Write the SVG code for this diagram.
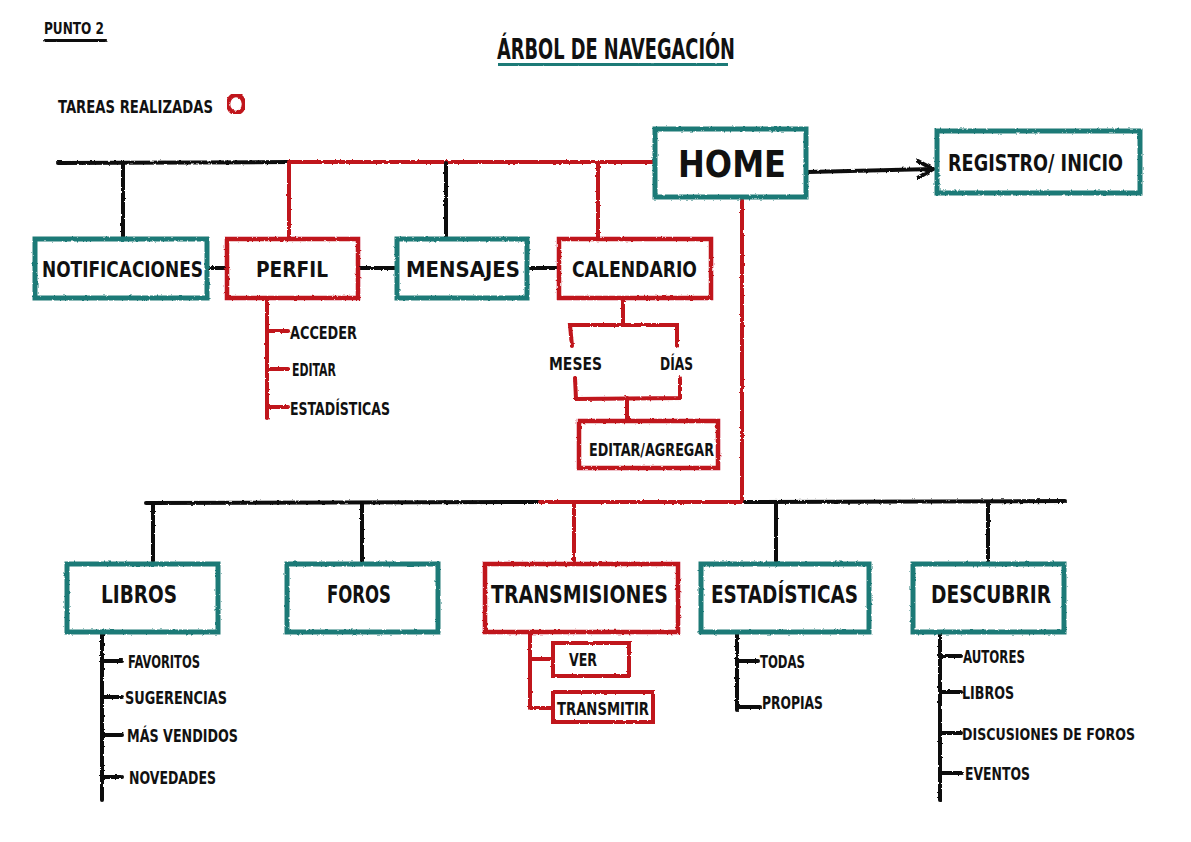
<svg xmlns="http://www.w3.org/2000/svg" width="1191" height="842" viewBox="0 0 1191 842">
<defs>
<filter id="rough" x="-5%" y="-5%" width="110%" height="110%">
<feTurbulence type="fractalNoise" baseFrequency="0.35" numOctaves="2" seed="3" result="n"/>
<feDisplacementMap in="SourceGraphic" in2="n" scale="2.5" xChannelSelector="R" yChannelSelector="G"/>
</filter>
<marker id="arrow" viewBox="0 0 12 12" refX="10" refY="6" markerWidth="5" markerHeight="5" orient="auto" markerUnits="strokeWidth">
<path d="M1,1 L10,6 L1,11" fill="none" stroke="#111" stroke-width="2.5" stroke-linecap="round" stroke-linejoin="round"/>
</marker>
</defs>
<style>
text{font-family:"DejaVu Sans Condensed","DejaVu Sans","Liberation Sans",sans-serif;font-weight:bold;fill:#111;}
.lbl1{font-size:22px;}
.lbl{font-size:24px;}
.sub{font-size:18px;}
.teal{fill:#fff;stroke:#1f7a77;stroke-width:5;}
.red{fill:#fff;stroke:#c0141b;stroke-width:4.5;}
.redS{fill:#fff;stroke:#c0141b;stroke-width:4;}
.k{stroke:#111;stroke-width:4;fill:none;stroke-linecap:round;}
.r{stroke:#c0141b;stroke-width:4;fill:none;stroke-linecap:round;}
.rk{filter:url(#rough);}
</style>
<rect width="1191" height="842" fill="#fff"/>

<g id="header">
<text x="44" y="34" font-size="16" textLength="60" lengthAdjust="spacingAndGlyphs">PUNTO 2</text>
<line x1="45" y1="41" x2="105" y2="40" class="k rk" stroke-width="3.5"/>
<text x="497" y="59" font-size="28" textLength="238" lengthAdjust="spacingAndGlyphs">ÁRBOL DE NAVEGACIÓN</text>
<line x1="498" y1="64" x2="728" y2="65" stroke="#1f7a77" stroke-width="5" class="rk"/>
<text x="58" y="113" font-size="17" textLength="155" lengthAdjust="spacingAndGlyphs">TAREAS REALIZADAS</text>
<ellipse cx="236" cy="104" rx="8" ry="9" fill="none" stroke="#c0141b" stroke-width="4.5" class="rk"/>
</g>

<g id="connectors" class="rk">
<line x1="58" y1="163" x2="289" y2="162" class="k"/>
<line x1="289" y1="162" x2="653" y2="162" class="r"/>
<line x1="123" y1="163" x2="123" y2="237" class="k"/>
<line x1="289" y1="163" x2="289" y2="237" class="r"/>
<line x1="446" y1="163" x2="446" y2="237" class="k"/>
<line x1="598" y1="163" x2="598" y2="237" class="r"/>
<line x1="207" y1="268" x2="225" y2="268" class="k"/>
<line x1="360" y1="268" x2="395" y2="268" class="k"/>
<line x1="527" y1="268" x2="557" y2="268" class="k"/>
<line x1="808" y1="172" x2="933" y2="169" class="k" marker-end="url(#arrow)"/>
<line x1="267" y1="298" x2="267" y2="418" class="r"/>
<line x1="267" y1="331" x2="288" y2="331" class="r"/>
<line x1="267" y1="369" x2="288" y2="369" class="r"/>
<line x1="267" y1="407" x2="288" y2="407" class="r"/>
<line x1="623" y1="298" x2="623" y2="325" class="r"/>
<polyline points="572,346 570,325 677,325 677,346" class="r"/>
<polyline points="575,378 576,399 680,398 680,378" class="r"/>
<line x1="627" y1="398" x2="627" y2="420" class="r"/>
<line x1="742" y1="182" x2="742" y2="200" stroke="#c0141b" stroke-width="1.5" stroke-dasharray="3 3"/>
<line x1="742" y1="200" x2="742" y2="502" class="r"/>
<line x1="146" y1="503" x2="540" y2="502" class="k"/>
<line x1="540" y1="502" x2="745" y2="502" class="r"/>
<line x1="745" y1="502" x2="1065" y2="501" class="k"/>
<line x1="153" y1="503" x2="153" y2="561" class="k"/>
<line x1="362" y1="503" x2="362" y2="561" class="k"/>
<line x1="574" y1="503" x2="574" y2="561" class="r"/>
<line x1="776" y1="503" x2="776" y2="561" class="k"/>
<line x1="988" y1="503" x2="988" y2="561" class="k"/>
<line x1="102" y1="632" x2="102" y2="800" class="k"/>
<line x1="102" y1="661" x2="122" y2="661" class="k"/>
<line x1="102" y1="697" x2="122" y2="697" class="k"/>
<line x1="102" y1="735" x2="122" y2="735" class="k"/>
<line x1="102" y1="777" x2="122" y2="777" class="k"/>
<line x1="530" y1="632" x2="530" y2="708" class="r"/>
<line x1="530" y1="659" x2="552" y2="659" class="r"/>
<line x1="530" y1="708" x2="552" y2="708" class="r"/>
<line x1="737" y1="632" x2="737" y2="710" class="k"/>
<line x1="737" y1="661" x2="758" y2="661" class="k"/>
<line x1="737" y1="707" x2="760" y2="707" class="k"/>
<line x1="940" y1="632" x2="940" y2="800" class="k"/>
<line x1="940" y1="656" x2="961" y2="656" class="k"/>
<line x1="940" y1="692" x2="961" y2="692" class="k"/>
<line x1="940" y1="733" x2="961" y2="733" class="k"/>
<line x1="940" y1="773" x2="962" y2="773" class="k"/>
</g>

<g id="home">
<rect x="655" y="129" width="151" height="68" class="teal rk"/>
<text x="678" y="177" font-size="38" textLength="108" lengthAdjust="spacingAndGlyphs">HOME</text>
</g>
<g id="registro">
<rect x="937" y="131" width="203" height="62" class="teal rk"/>
<text x="948" y="171" font-size="23" textLength="175" lengthAdjust="spacingAndGlyphs">REGISTRO/ INICIO</text>
</g>

<g id="notificaciones">
<rect x="35" y="239" width="172" height="59" class="teal rk"/>
<text x="42" y="277" class="lbl1" textLength="161" lengthAdjust="spacingAndGlyphs">NOTIFICACIONES</text>
</g>
<g id="perfil">
<rect x="227" y="239" width="131" height="59" class="red rk"/>
<text x="256" y="277" class="lbl1" textLength="72" lengthAdjust="spacingAndGlyphs">PERFIL</text>
</g>
<g id="mensajes">
<rect x="397" y="239" width="130" height="59" class="teal rk"/>
<text x="406" y="277" class="lbl1" textLength="114" lengthAdjust="spacingAndGlyphs">MENSAJES</text>
</g>
<g id="calendario">
<rect x="559" y="239" width="152" height="59" class="red rk"/>
<text x="572" y="277" class="lbl1" textLength="125" lengthAdjust="spacingAndGlyphs">CALENDARIO</text>
</g>

<g id="perfil-items">
<text x="290" y="339" class="sub" textLength="67" lengthAdjust="spacingAndGlyphs">ACCEDER</text>
<text x="292" y="376" class="sub" textLength="44" lengthAdjust="spacingAndGlyphs">EDITAR</text>
<text x="290" y="415" class="sub" textLength="100" lengthAdjust="spacingAndGlyphs">ESTADÍSTICAS</text>
</g>
<g id="meses"><text x="549" y="370" class="sub" textLength="53" lengthAdjust="spacingAndGlyphs">MESES</text></g>
<g id="dias"><text x="660" y="370" class="sub" textLength="33" lengthAdjust="spacingAndGlyphs">DÍAS</text></g>
<g id="editar-agregar">
<rect x="579" y="421" width="139" height="47" class="red rk"/>
<text x="589" y="456" class="sub" textLength="125" lengthAdjust="spacingAndGlyphs">EDITAR/AGREGAR</text>
</g>

<g id="libros">
<rect x="67" y="564" width="151" height="68" class="teal rk"/>
<text x="101" y="603" class="lbl" textLength="76" lengthAdjust="spacingAndGlyphs">LIBROS</text>
</g>
<g id="foros">
<rect x="287" y="564" width="151" height="68" class="teal rk"/>
<text x="327" y="603" class="lbl" textLength="64" lengthAdjust="spacingAndGlyphs">FOROS</text>
</g>
<g id="transmisiones">
<rect x="485" y="564" width="193" height="68" class="red rk"/>
<text x="491" y="603" class="lbl" textLength="177" lengthAdjust="spacingAndGlyphs">TRANSMISIONES</text>
</g>
<g id="estadisticas">
<rect x="701" y="564" width="168" height="68" class="teal rk"/>
<text x="711" y="603" class="lbl" textLength="147" lengthAdjust="spacingAndGlyphs">ESTADÍSTICAS</text>
</g>
<g id="descubrir">
<rect x="913" y="564" width="151" height="68" class="teal rk"/>
<text x="931" y="603" class="lbl" textLength="120" lengthAdjust="spacingAndGlyphs">DESCUBRIR</text>
</g>

<g id="libros-items">
<text x="128" y="668" class="sub" textLength="72" lengthAdjust="spacingAndGlyphs">FAVORITOS</text>
<text x="125" y="704" class="sub" textLength="102" lengthAdjust="spacingAndGlyphs">SUGERENCIAS</text>
<text x="127" y="742" class="sub" textLength="111" lengthAdjust="spacingAndGlyphs">MÁS VENDIDOS</text>
<text x="129" y="784" class="sub" textLength="87" lengthAdjust="spacingAndGlyphs">NOVEDADES</text>
</g>
<g id="ver">
<rect x="553" y="643" width="76" height="33" class="redS rk"/>
<text x="569" y="666" class="sub" textLength="28" lengthAdjust="spacingAndGlyphs">VER</text>
</g>
<g id="transmitir">
<rect x="553" y="692" width="100" height="30" class="redS rk"/>
<text x="557" y="715" class="sub" textLength="92" lengthAdjust="spacingAndGlyphs">TRANSMITIR</text>
</g>
<g id="estadisticas-items">
<text x="760" y="668" class="sub" textLength="45" lengthAdjust="spacingAndGlyphs">TODAS</text>
<text x="762" y="709" class="sub" textLength="61" lengthAdjust="spacingAndGlyphs">PROPIAS</text>
</g>
<g id="descubrir-items">
<text x="963" y="663" class="sub" textLength="62" lengthAdjust="spacingAndGlyphs">AUTORES</text>
<text x="962" y="699" class="sub" textLength="52" lengthAdjust="spacingAndGlyphs">LIBROS</text>
<text x="962" y="740" font-size="16.5" textLength="173" lengthAdjust="spacingAndGlyphs">DISCUSIONES DE FOROS</text>
<text x="965" y="780" class="sub" textLength="65" lengthAdjust="spacingAndGlyphs">EVENTOS</text>
</g>
</svg>
